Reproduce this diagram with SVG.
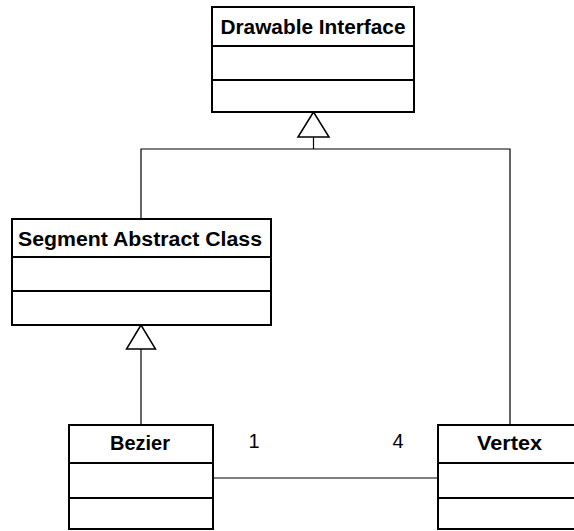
<svg xmlns="http://www.w3.org/2000/svg" width="574" height="531" viewBox="0 0 574 531">
  <style>
    .box { fill: #ffffff; stroke: #000000; stroke-width: 2; }
    .div { stroke: #000000; stroke-width: 2; }
    .title { font-family: "Liberation Sans", Arimo, Arial, sans-serif; font-weight: bold; font-size: 20px; fill: #000000; text-anchor: middle; }
    .mult { font-family: "Liberation Sans", Arimo, Arial, sans-serif; font-size: 20px; fill: #000000; text-anchor: middle; }
    .conn { fill: none; stroke: #000000; stroke-width: 1.2; }
    .tri { fill: #ffffff; stroke: #000000; stroke-width: 1.5; }
  </style>

  <!-- connectors -->
  <g id="connectors">
    <!-- generalisation to Drawable Interface -->
    <polyline class="conn" points="141,219 141,149 510,149 510,425"/>
    <line class="conn" x1="313.5" y1="137" x2="313.5" y2="149"/>
    <polygon class="tri" points="313.5,112 298,137 329,137"/>
    <!-- generalisation Bezier to Segment -->
    <line class="conn" x1="141" y1="349" x2="141" y2="425"/>
    <polygon class="tri" points="141,325 126.5,349 155.5,349"/>
    <!-- association Bezier - Vertex -->
    <line class="conn" x1="213" y1="478" x2="438" y2="478"/>
    <text class="mult" x="254" y="448">1</text>
    <text class="mult" x="398" y="448">4</text>
  </g>

  <g id="drawable">
    <rect class="box" x="212" y="7" width="202" height="105"/>
    <line class="div" x1="212" y1="46" x2="414" y2="46"/>
    <line class="div" x1="212" y1="80" x2="414" y2="80"/>
    <text class="title" x="313" y="34" textLength="185" lengthAdjust="spacingAndGlyphs">Drawable Interface</text>
  </g>

  <g id="segment">
    <rect class="box" x="12" y="219" width="259" height="106"/>
    <line class="div" x1="12" y1="257" x2="271" y2="257"/>
    <line class="div" x1="12" y1="291" x2="271" y2="291"/>
    <text class="title" x="140" y="246" textLength="244" lengthAdjust="spacingAndGlyphs">Segment Abstract Class</text>
  </g>

  <g id="bezier">
    <rect class="box" x="69" y="425" width="144" height="104"/>
    <line class="div" x1="69" y1="463" x2="213" y2="463"/>
    <line class="div" x1="69" y1="498" x2="213" y2="498"/>
    <text class="title" x="140" y="450" textLength="60" lengthAdjust="spacingAndGlyphs">Bezier</text>
  </g>

  <g id="vertex">
    <rect class="box" x="438" y="425" width="160" height="104"/>
    <line class="div" x1="438" y1="463" x2="598" y2="463"/>
    <line class="div" x1="438" y1="498" x2="598" y2="498"/>
    <text class="title" x="509.5" y="450" textLength="65" lengthAdjust="spacingAndGlyphs">Vertex</text>
  </g>
</svg>
